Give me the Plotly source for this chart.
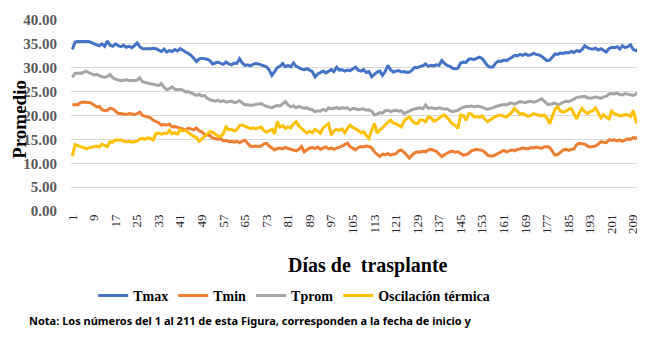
import plotly.graph_objects as go

dias = list(range(1, 212))
tick_vals = list(range(1, 212, 8))
tick_text = [str(v) for v in tick_vals]
y_ticks = [0, 5, 10, 15, 20, 25, 30, 35, 40]

tmax = [
    33.8, 35.4, 35.5, 35.5, 35.5, 35.4, 35.5, 35.3, 35.0, 34.8,
    34.6, 35.0, 34.5, 35.6, 34.7, 34.5, 35.0, 34.6, 34.4, 34.7,
    34.3, 34.5, 34.2, 34.6, 35.2, 34.4, 34.0, 34.0, 33.9, 34.0,
    34.1, 34.0, 33.7, 33.4, 33.9, 33.3, 33.6, 33.4, 33.8, 33.5,
    34.0, 33.6, 33.3, 33.0, 32.6, 32.0, 31.3, 31.8, 32.0, 31.9,
    31.8, 31.5, 30.8, 31.0, 31.2, 30.9, 30.7, 31.2, 30.8, 30.6,
    31.0, 30.9, 31.9, 31.0, 30.5, 30.6, 30.4, 30.7, 30.9, 30.8,
    30.6, 30.5, 30.2, 29.5, 28.4, 29.2, 30.0, 30.3, 30.9, 30.2,
    30.5, 30.2, 31.0, 30.3, 30.0, 29.7, 29.6, 29.8, 29.5, 29.2,
    28.1, 28.7, 29.0, 29.3, 28.9, 29.2, 29.6, 29.2, 30.1, 29.5,
    29.6, 29.3, 29.5, 29.4, 29.7, 30.1, 29.5, 29.3, 29.6, 29.0,
    29.2, 28.1, 28.6, 29.1, 29.3, 28.4, 29.2, 30.5, 29.6, 29.1,
    29.3, 29.4, 29.1, 29.2, 29.0, 29.1, 29.5, 30.1, 30.0, 30.3,
    30.4, 30.8, 30.3, 30.5, 30.4, 30.6, 30.5, 31.5, 30.9, 30.5,
    30.3, 29.9, 29.8, 29.9, 31.0, 31.2, 31.1, 31.8, 31.9, 31.7,
    32.0, 32.2, 31.9, 31.2, 30.4, 30.1, 30.2, 31.0, 31.4, 31.3,
    31.6, 31.5, 31.8, 32.2, 32.6, 32.5, 32.8, 32.6, 32.9, 32.6,
    32.7, 33.0, 32.8, 32.7, 32.4, 31.9, 31.5, 31.6, 32.2, 32.9,
    32.8, 33.1, 33.0, 33.2, 33.1, 33.4, 33.2, 33.6, 33.4, 33.8,
    34.6, 34.2, 34.0, 33.9, 34.1, 33.7, 34.0, 33.6, 33.3, 34.0,
    34.3, 34.2, 34.4, 33.9, 34.6, 34.2, 34.4, 34.8, 33.8, 33.6,
    33.9,
]

tmin = [
    22.2, 22.3, 22.2, 22.7, 22.8, 22.8, 22.7, 22.6, 22.1, 21.8,
    21.9, 21.2, 21.0, 21.1, 21.5, 21.4, 20.9, 20.4, 20.4, 20.3,
    20.2, 20.4, 20.3, 20.2, 20.4, 20.7, 20.0, 19.8, 19.7, 19.5,
    19.0, 18.7, 18.5, 18.0, 18.1, 18.0, 18.2, 17.6, 17.7, 17.5,
    17.4, 17.2, 17.0, 17.3, 17.2, 17.0, 17.4, 16.8, 16.6, 16.0,
    15.9, 15.8, 15.3, 15.1, 15.0, 15.2, 14.7, 14.8, 14.5, 14.6,
    14.4, 14.6, 14.3, 14.6, 14.8, 14.2, 13.6, 13.5, 13.6, 13.5,
    13.6, 14.0, 14.2, 13.6, 13.2, 12.8, 13.1, 13.2, 13.0, 13.3,
    13.1, 12.9, 12.7, 12.6, 12.9, 13.5, 12.4, 12.8, 13.2, 13.3,
    13.1, 13.4, 12.9, 13.2, 13.4, 13.0, 13.2, 12.9, 13.1, 13.3,
    13.6, 13.9, 14.2, 13.5, 13.1, 12.8, 13.3, 13.5, 13.4, 13.6,
    13.5, 13.2, 12.4, 11.8, 11.4, 11.9, 11.8, 12.0, 11.7, 11.9,
    12.0, 12.6, 12.8, 12.3, 11.6, 11.1, 11.7, 12.2, 12.4, 12.3,
    12.5, 12.4, 12.8, 12.9, 12.7, 12.5, 11.9, 11.4, 11.8, 12.1,
    12.4, 12.5, 12.3, 12.4, 12.0, 11.7, 11.8, 12.1, 12.6, 12.8,
    12.9, 12.8, 12.7, 12.3, 11.7, 11.5, 11.5, 11.8, 12.1, 12.5,
    12.7, 12.4, 12.6, 12.8, 12.6, 12.9, 13.0, 13.2, 13.1, 13.0,
    13.3, 13.2, 13.4, 13.3, 13.1, 13.4, 13.5, 13.3, 12.4, 11.7,
    11.8, 12.3, 12.8, 12.9, 12.7, 12.9, 13.0, 13.9, 14.2, 14.1,
    14.0, 13.6, 13.4, 13.5, 13.6, 14.0, 14.5, 14.4, 14.3, 14.9,
    14.8, 14.9, 14.7, 14.9, 14.6, 14.9, 15.1, 15.0, 15.4, 15.2,
    15.6,
]

tprom = [
    28.0, 28.8, 28.9, 28.8, 29.0, 29.3, 29.0, 28.8, 28.5, 28.6,
    28.3, 28.1, 28.0, 28.2, 28.6, 27.9, 27.6, 27.5, 27.3, 27.4,
    27.5, 27.3, 27.4, 27.3, 27.4, 27.9, 27.1, 26.9, 26.8, 26.7,
    26.5, 26.4, 26.3, 26.7, 25.9, 25.4, 25.6, 26.0, 25.5, 25.4,
    25.5, 25.3, 24.9, 25.0, 24.7, 24.4, 24.2, 24.4, 24.1, 24.2,
    23.6, 23.3, 23.2, 23.0, 23.2, 22.9, 23.1, 22.8, 22.9, 23.0,
    22.7, 22.8, 23.1, 22.6, 22.2, 22.3, 22.1, 22.2, 22.3, 22.5,
    22.5, 22.2, 21.9, 21.8, 21.6, 21.9, 22.1, 22.0, 22.4, 22.9,
    22.2, 21.8, 22.0, 21.6, 21.9, 21.7, 21.5, 21.6, 21.3, 21.2,
    20.8, 21.0, 20.9, 21.3, 21.0, 21.6, 21.4, 21.5, 21.7, 21.4,
    21.6, 21.5, 21.6, 21.2, 21.5, 21.4, 21.2, 21.3, 21.4, 21.1,
    21.2, 20.9, 20.1, 20.3, 20.6, 20.5, 21.0, 21.1, 20.8, 21.0,
    21.1, 20.9, 21.0, 20.4, 20.6, 20.9, 21.2, 21.4, 21.5, 21.6,
    21.4, 22.2, 21.5, 21.6, 21.5, 21.4, 21.6, 21.5, 21.3, 21.4,
    21.0, 20.8, 20.9, 21.1, 21.5, 21.7, 21.9, 21.9, 22.0, 21.8,
    22.0, 21.9, 21.7, 21.5, 21.3, 21.5, 21.6, 21.9, 22.1, 22.2,
    22.3, 22.2, 22.5, 22.6, 22.4, 22.7, 22.9, 22.8, 22.7, 22.9,
    23.0, 22.8, 22.9, 23.2, 23.5, 23.0, 22.4, 22.3, 22.4, 22.6,
    22.2, 22.5, 22.8, 23.0, 22.9, 23.1, 23.4, 23.8, 23.9, 24.0,
    24.0, 23.7, 23.6, 23.7, 23.9, 23.7, 23.6, 23.9, 24.0, 24.5,
    24.6, 24.5, 24.7, 24.4, 24.3, 24.6, 24.5, 24.4, 24.2, 24.5,
    24.9,
]

oscilacion = [
    11.5, 13.9, 13.7, 13.5, 13.2, 13.1, 13.2, 13.3, 13.5, 13.6,
    13.4, 14.0, 13.7, 13.5, 14.5, 14.4, 14.9, 14.8, 14.9, 14.6,
    14.5, 14.6, 14.4, 14.5, 14.6, 15.1, 15.2, 15.0, 15.3, 15.2,
    14.9, 16.2, 16.3, 16.1, 16.3, 16.2, 16.9, 16.2, 16.4, 16.1,
    17.0, 16.8, 16.9, 16.4, 15.9, 15.6, 15.4, 14.6, 15.1, 15.6,
    16.3, 16.6, 16.5, 16.0, 15.7, 15.6, 16.2, 17.6, 17.0, 17.1,
    16.8, 17.0, 17.9, 18.0, 17.8, 17.5, 17.3, 17.4, 17.2, 17.4,
    17.6, 16.9, 16.5, 16.8, 17.1, 16.2, 18.7, 17.6, 17.9, 17.3,
    17.6, 17.4, 18.2, 18.7, 17.8, 17.3, 16.8, 16.3, 16.7, 16.4,
    17.1, 16.6, 16.3, 17.4, 17.8, 18.3, 15.9, 16.8, 17.1, 16.9,
    17.2, 16.4, 17.3, 18.0, 17.5, 17.2, 16.9, 16.4, 16.6, 15.8,
    15.2, 16.9, 18.3, 16.3, 17.0, 17.4, 18.1, 18.6, 19.0, 18.4,
    18.3, 18.0, 17.6, 18.8, 19.4, 19.7, 18.9, 18.4, 18.3, 19.1,
    19.0, 18.7, 19.7, 19.5, 18.8, 19.0, 19.4, 19.9, 20.1, 19.6,
    18.9, 18.2, 17.9, 17.3, 20.1, 20.0, 19.0, 20.4, 20.3, 19.7,
    19.8, 19.6, 19.9, 19.2, 18.7, 19.1, 19.5, 19.8, 20.0, 20.1,
    19.8, 19.7, 20.2, 20.7, 21.5, 21.0, 20.3, 20.4, 20.1, 19.8,
    20.0, 20.4, 20.2, 20.0, 19.9, 20.1, 19.5, 18.3, 19.9, 21.3,
    21.8, 20.9, 20.7, 20.9, 21.3, 21.5, 20.4, 19.3, 20.6, 21.5,
    20.8, 20.4, 20.8, 21.0, 21.6, 20.4, 19.5, 20.2, 19.6, 19.3,
    20.9, 20.4, 20.1, 19.9, 20.0, 20.2, 20.1, 19.8, 21.1, 18.7,
    18.2,
]

series = [
    ("Tmax", tmax, "#4472C4"),
    ("Tmin", tmin, "#ED7D31"),
    ("Tprom", tprom, "#A5A5A5"),
    ("Oscilación térmica", oscilacion, "#FFC000"),
]

fig = go.Figure()
for name, vals, color in series:
    fig.add_trace(go.Scatter(
        x=dias, y=vals, mode="lines", name=name,
        line=dict(color=color, width=3),
    ))

serif = "Liberation Serif, Times New Roman, serif"

# The page body keeps its default 8px margin, so the figure is placed 8px
# right and 8px down; the margins below account for that offset.
fig.update_layout(
    width=645, height=342,
    margin=dict(l=63, r=13, t=12, b=139),
    paper_bgcolor="white", plot_bgcolor="white",
    showlegend=True,
    legend=dict(
        orientation="h", x=0.039, xanchor="left", y=-0.445, yanchor="middle",
        font=dict(family=serif, size=14, color="#000000", weight="bold"),
        itemwidth=30, tracegroupgap=0, bgcolor="rgba(0,0,0,0)",
    ),
    xaxis=dict(
        range=[0.5, 211.5], tickmode="array", tickvals=tick_vals, ticktext=tick_text,
        tickangle=-90, showgrid=False, zeroline=False, showline=False, ticks="",
        automargin=False,
        tickfont=dict(family=serif, size=13, color="#262626"),
    ),
    yaxis=dict(
        range=[0, 40], tickmode="array", tickvals=y_ticks, tickformat=".2f",
        showgrid=True, gridcolor="#D9D9D9", gridwidth=1, zeroline=False,
        showline=False, ticks="", ticklabelstandoff=13, automargin=False,
        tickfont=dict(family=serif, size=15, color="#595959", weight="bold"),
    ),
    annotations=[
        dict(text="<b>Días de  trasplante</b>", xref="paper", yref="paper",
             x=0.522, y=-0.283, xanchor="center", yanchor="middle", showarrow=False,
             font=dict(family=serif, size=20, color="#000000")),
        dict(text="<b>Promedio</b>", xref="paper", yref="paper", textangle=-90,
             x=-0.1107, y=0.48, xanchor="left", yanchor="middle", showarrow=False,
             borderpad=0,
             font=dict(family=serif, size=19, color="#000000")),
        dict(text="<b>Nota: Los números del 1 al 211 de esta Figura, corresponden a la fecha de inicio y</b>",
             xref="paper", yref="paper", x=-0.0773, y=-0.571, xanchor="left", yanchor="middle",
             showarrow=False, font=dict(family="Noto Sans, Liberation Sans, sans-serif", size=11, color="#000000")),
    ],
)

fig.write_html("out.html")
